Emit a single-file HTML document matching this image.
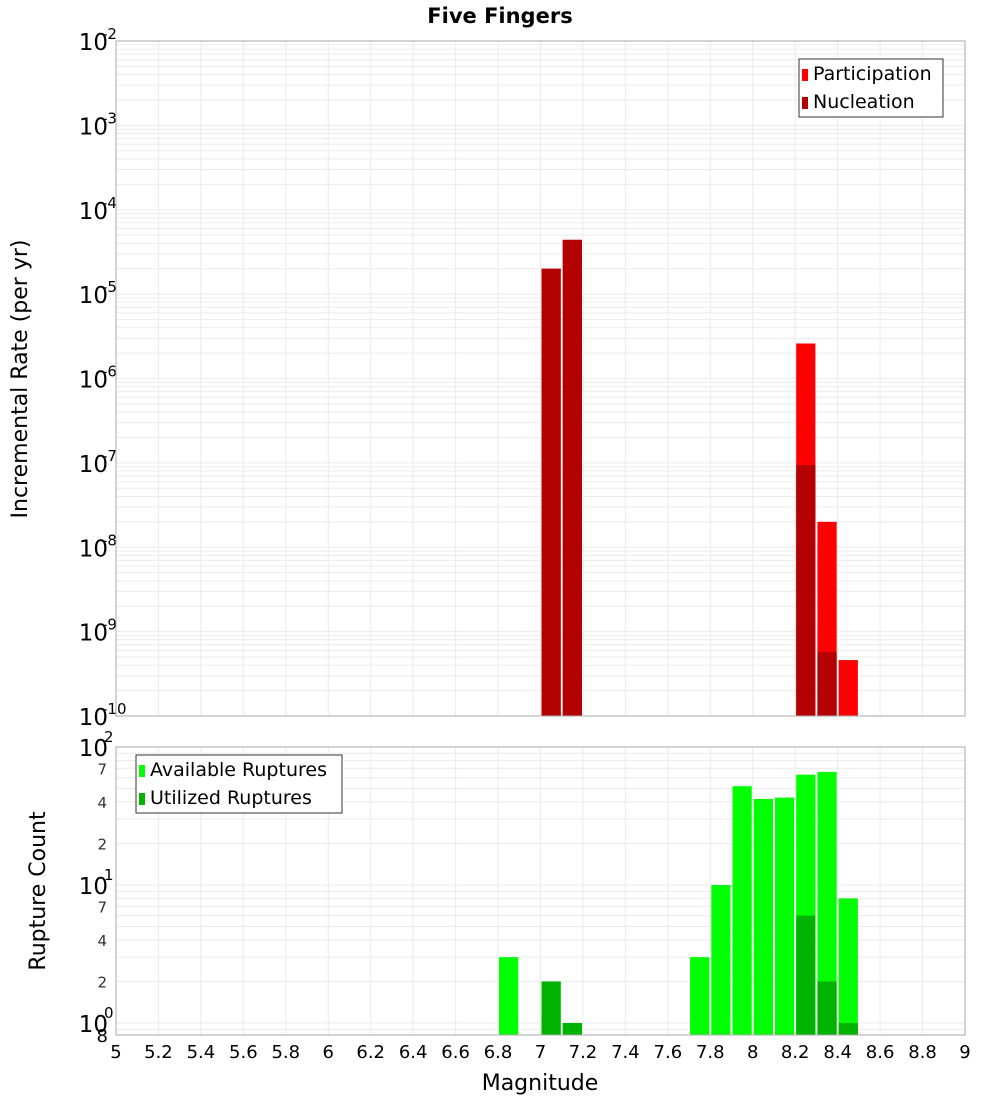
<!DOCTYPE html>
<html><head><meta charset="utf-8">
<style>
body{margin:0;background:#fff;}
svg{display:block;font-family:"DejaVu Sans","Liberation Sans",sans-serif;}
</style></head>
<body>
<svg id="chart" width="1000" height="1100" xmlns="http://www.w3.org/2000/svg">
<text x="500" y="23" text-anchor="middle" font-size="21" font-weight="bold">Five Fingers</text>
<text transform="translate(27,379) rotate(-90)" text-anchor="middle" font-size="22">Incremental Rate (per yr)</text>
<text transform="translate(45,891) rotate(-90)" text-anchor="middle" font-size="22">Rupture Count</text>
<text x="540" y="1090" text-anchor="middle" font-size="22">Magnitude</text>
<g id="topChart"></g>
<g id="bottomChart"></g>
</svg>
<script>
// Top chart data
const topBins = [7.0, 7.1, 8.2, 8.3, 8.4];
const participation = [2.0e-5, 4.4e-5, 2.6e-6, 2.0e-8, 4.6e-10];
const nucleation = [2.0e-5, 4.4e-5, 9.4e-8, 5.7e-10, 0];
// Bottom chart data
const botBins = [6.8, 7.0, 7.1, 7.7, 7.8, 7.9, 8.0, 8.1, 8.2, 8.3, 8.4];
const available = [3, 2, 1, 3, 10, 52, 42, 43, 63, 66, 8];
const utilized = [0, 2, 1, 0, 0, 0, 0, 0, 6, 2, 1];
const xTicks = ["5","5.2","5.4","5.6","5.8","6","6.2","6.4","6.6","6.8","7","7.2","7.4","7.6","7.8","8","8.2","8.4","8.6","8.8","9"];
const topExps = [-2,-3,-4,-5,-6,-7,-8,-9,-10];
const botMinor = ["2","4","7"];

const NS="http://www.w3.org/2000/svg";
const X0=116,X1=965;
const xs=m=>X0+(m-5)/4*(X1-X0);
const TT=41,TB=716;
const ty=v=>TT+(-2-Math.log10(v))*(TB-TT)/8;
const BT=747,BB=1035;
const by=v=>1023-Math.log10(v)*138;
function mk(parent,tag,attrs,txt){const e=document.createElementNS(NS,tag);for(const k in attrs)e.setAttribute(k,attrs[k]);if(txt!==undefined)e.textContent=txt;parent.appendChild(e);return e;}
const topG=document.getElementById('topChart'),botG=document.getElementById('bottomChart');

mk(topG,'rect',{x:X0,y:TT,width:X1-X0,height:TB-TT,fill:'#fff',stroke:'none'});
mk(botG,'rect',{x:X0,y:BT,width:X1-X0,height:BB-BT,fill:'#fff',stroke:'none'});
xTicks.forEach(t=>{const x=xs(+t);
 mk(topG,'line',{x1:x,x2:x,y1:TT,y2:TB,stroke:'#ebebeb'});
 mk(botG,'line',{x1:x,x2:x,y1:BT,y2:BB,stroke:'#ebebeb'});
 const lb=mk(botG,'text',{x:x,y:1058,'text-anchor':'middle','font-size':18},t);
 
 
});
for(let e=-10;e<-2;e++)for(let k=1;k<10;k++){const y=ty(k*Math.pow(10,e));if(y>=TT&&y<=TB)mk(topG,'line',{x1:X0,x2:X1,y1:y,y2:y,stroke:'#ebebeb'});}
for(let e=-1;e<2;e++)for(let k=1;k<10;k++){const y=by(k*Math.pow(10,e));if(y>=BT&&y<=BB)mk(botG,'line',{x1:X0,x2:X1,y1:y,y2:y,stroke:'#ebebeb'});}
topExps.forEach(e=>{const y=ty(Math.pow(10,e));
 const g=mk(topG,'text',{x:108,y:y+9,'text-anchor':'end','font-size':23},'10');
 
 
 mk(topG,'text',{x:102,y:y-2,'font-size':15},String(e));
});
[0,1,2].forEach(e=>{const y=by(Math.pow(10,e));
 const g=mk(botG,'text',{x:108,y:y+9,'text-anchor':'end','font-size':23},'10');
 
 
 mk(botG,'text',{x:104,y:y-5,'font-size':15},String(e));
});
[0,1].forEach(e=>botMinor.forEach(t=>{const y=by(+t*Math.pow(10,e));
 const l=mk(botG,'text',{x:107,y:y+6,'text-anchor':'end','font-size':15,fill:'#333'},t);
 
 
}));
mk(botG,'text',{x:108,y:1042,'text-anchor':'end','font-size':18},'8');

topBins.forEach((m,i)=>{const x=xs(m)+1,w=xs(m+0.1)-xs(m)-2;
 if(participation[i]>0){const r=mk(topG,'rect',{x:x,y:ty(participation[i]),width:w,height:TB-ty(participation[i]),fill:'#ff0000'});
  
  }
 if(nucleation[i]>0){const r=mk(topG,'rect',{x:x,y:ty(nucleation[i]),width:w,height:TB-ty(nucleation[i]),fill:'#b30000'});
  
  }
});
botBins.forEach((m,i)=>{const x=xs(m)+1,w=xs(m+0.1)-xs(m)-2;
 if(available[i]>0){const r=mk(botG,'rect',{x:x,y:by(available[i]),width:w,height:BB-by(available[i]),fill:'#00ff00'});
  
  }
 if(utilized[i]>0){const r=mk(botG,'rect',{x:x,y:by(utilized[i]),width:w,height:BB-by(utilized[i]),fill:'#00b300'});
  
  }
});
mk(topG,'rect',{x:X0,y:TT,width:X1-X0,height:TB-TT,fill:'none',stroke:'#aaa'});
mk(botG,'rect',{x:X0,y:BT,width:X1-X0,height:BB-BT,fill:'none',stroke:'#aaa'});

function legend(parent,x,y,w,items,name){
 const g=mk(parent,'g',{});
 
 
 mk(g,'rect',{x:x,y:y,width:w,height:58,fill:'#fff',stroke:'#333'});
 items.forEach((it,i)=>{mk(g,'rect',{x:x+3,y:y+10+i*28,width:6,height:12,fill:it[1]});
  mk(g,'text',{x:x+14,y:y+21+i*28,'font-size':19},it[0]);});
}
legend(topG,799,59,144,[['Participation','#ff0000'],['Nucleation','#b30000']],'top-legend');
legend(botG,136,755,206,[['Available Ruptures','#00ff00'],['Utilized Ruptures','#00b300']],'bottom-legend');
</script>
</body></html>
